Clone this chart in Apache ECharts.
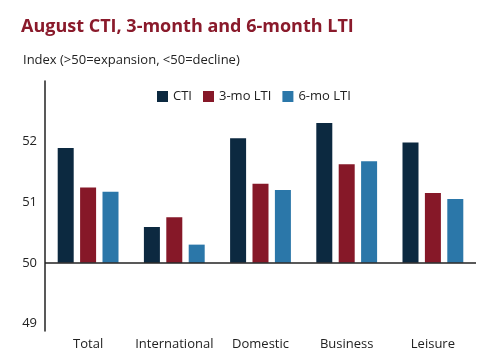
<!DOCTYPE html>
<html>
<head>
<meta charset="utf-8">
<script src="https://cdn.jsdelivr.net/npm/echarts@6/dist/echarts.min.js"></script>
<style>
html,body{margin:0;padding:0;background:#fff;}
#chart{width:483px;height:359px;}
</style>
</head>
<body>
<div id="chart"></div>
<script>
const categories = ['Total', 'International', 'Domestic', 'Business', 'Leisure'];
const ctiValues = [51.89, 50.59, 52.05, 52.30, 51.98];
const lti3Values = [51.24, 50.75, 51.30, 51.62, 51.15];
const lti6Values = [51.17, 50.30, 51.20, 51.67, 51.05];
const seriesNames = ['CTI', '3-mo LTI', '6-mo LTI'];
const titleText = 'August CTI, 3-month and 6-month LTI';
const subtitleText = 'Index (>50=expansion, <50=decline)';
const baseValue = 50;

const colors = ['#0c2940', '#861828', '#2b77a9'];
const font = 'Open Sans';

const chart = echarts.init(document.getElementById('chart'), null, {renderer: 'canvas'});
const mkSeries = (name, data, i) => ({
  name: name,
  type: 'bar',
  data: data,
  barWidth: 16,
  barGap: '40%',
  itemStyle: {color: colors[i]},
  silent: true,
  markLine: i === 0 ? {
    silent: true,
    symbol: 'none',
    label: {show: false},
    lineStyle: {color: '#222', width: 1.5, type: 'solid'},
    data: [{yAxis: baseValue}]
  } : undefined
});

chart.setOption({
  animation: false,
  color: colors,
  title: [
    {text: titleText, left: 16, top: 11,
     textStyle: {fontFamily: font, fontSize: 18, fontWeight: 'bold', color: '#8a1a2b', lineHeight: 22}},
    {text: subtitleText, left: 18, top: 46,
     textStyle: {fontFamily: font, fontSize: 13, fontWeight: 'normal', color: '#222', lineHeight: 18}}
  ],
  legend: {
    left: 152, top: 85,
    itemWidth: 11, itemHeight: 11, itemGap: 11,
    icon: 'rect',
    textStyle: {fontFamily: font, fontSize: 13, color: '#222'},
    data: seriesNames
  },
  grid: {left: 45, right: 7, top: 81, bottom: 28, containLabel: false},
  xAxis: {
    type: 'category',
    data: categories,
    axisLine: {show: false},
    axisTick: {show: false},
    axisLabel: {fontFamily: font, fontSize: 13, color: '#222', margin: 7, interval: 0}
  },
  yAxis: {
    type: 'value',
    min: 48.88, max: 52.99,
    startValue: baseValue,
    splitLine: {show: false},
    axisLine: {show: true, lineStyle: {color: '#222', width: 1.5}},
    axisTick: {show: false},
    axisLabel: {fontFamily: font, fontSize: 13, color: '#222', margin: 8,
      showMinLabel: false, showMaxLabel: false}
  },
  series: [
    mkSeries(seriesNames[0], ctiValues, 0),
    mkSeries(seriesNames[1], lti3Values, 1),
    mkSeries(seriesNames[2], lti6Values, 2)
  ]
});
</script>
</body>
</html>
